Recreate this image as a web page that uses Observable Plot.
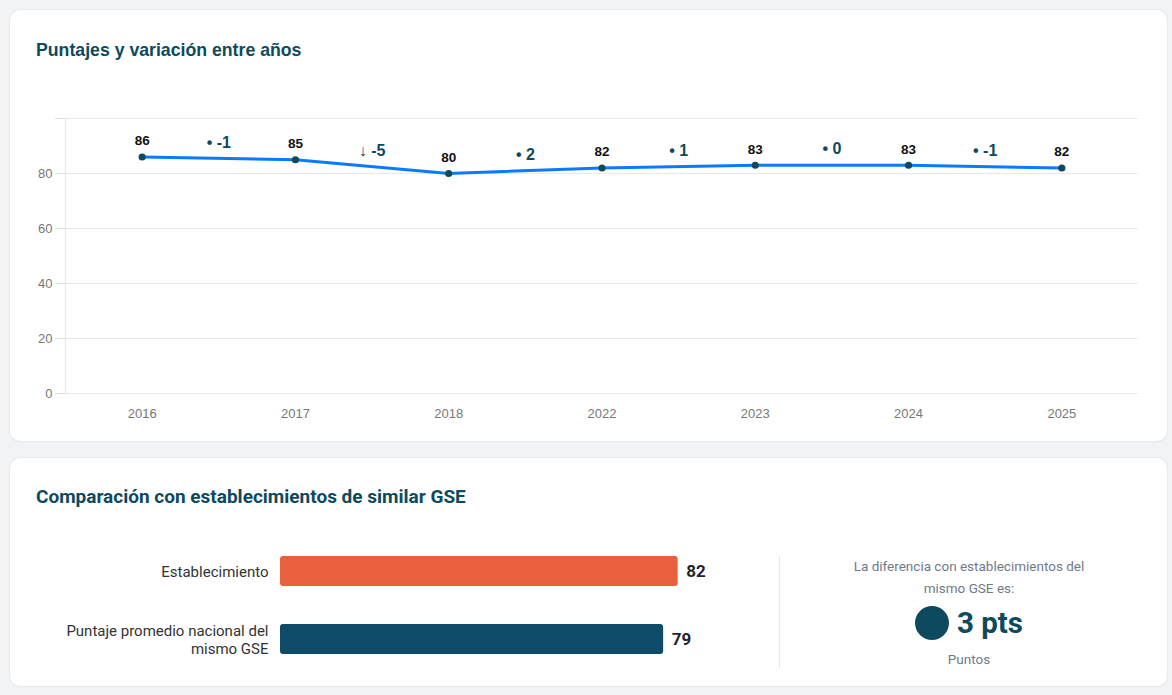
<!DOCTYPE html>
<html>
<head>
<meta charset="utf-8">
<script src="https://cdn.jsdelivr.net/npm/d3@7"></script>
<script src="https://cdn.jsdelivr.net/npm/@observablehq/plot@0.6"></script>
<style>
  html, body { margin: 0; padding: 0; }
  body { width: 1172px; height: 695px; background: #f2f3f5; position: relative; overflow: hidden; font-family: Roboto, "Liberation Sans", sans-serif; }
  .card { position: absolute; background: #fff; border-radius: 10px; box-shadow: 0 0 0 1px #e9eaee, 0 1px 2px rgba(0,0,0,0.04); }
  .abs { position: absolute; }
  .title1 { left: 36px; top: 40px; font: bold 17.7px "Liberation Sans", Arial, sans-serif; color: #0d4a5e; line-height: 20px; white-space: nowrap; }
  .title2 { left: 36px; top: 487px; font: bold 19px Roboto, sans-serif; color: #0d4a5e; line-height: 20px; white-space: nowrap; }
  .divider { left: 779px; top: 556px; width: 1px; height: 112px; background: #e6e8eb; }
  .panel { left: 779px; width: 380px; text-align: center; font-family: Roboto, sans-serif; }
  .note { color: #6f7b88; font-size: 13.5px; line-height: 22px; }
  .note span { display: inline-block; max-width: 250px; }
  .kpi { display: flex; align-items: center; justify-content: center; gap: 8px; color: #0d4a5e; font-weight: bold; font-size: 29.5px; line-height: 34px; }
  .kpi .circ { width: 34px; height: 34px; border-radius: 50%; background: #0d4a5e; display: inline-block; }
</style>
</head>
<body>
<div class="card" style="left:10px; top:10px; width:1157px; height:431px;"></div>
<div class="card" style="left:10px; top:458px; width:1157px; height:228px;"></div>
<div class="abs title1">Puntajes y variación entre años</div>
<div class="abs title2">Comparación con establecimientos de similar GSE</div>
<div id="chart1" class="abs" style="left:10px; top:100px;"></div>
<div id="chart2" class="abs" style="left:10px; top:540px;"></div>
<div class="abs divider"></div>
<div class="abs panel note" style="top:555px;"><span id="note"></span></div>
<div class="abs panel kpi" style="top:606px;" id="kpi"></div>
<div class="abs panel note" style="top:648px;">Puntos</div>
<script>
// ---- Data: chart 1 ----
const years = ["2016", "2017", "2018", "2022", "2023", "2024", "2025"];
const scores = [86, 85, 80, 82, 83, 83, 82];
const variationMarkers = ["•", "↓", "•", "•", "•", "•"];
const yTicks = [0, 20, 40, 60, 80, 100];

// ---- Data: chart 2 ----
const groups = ["Establecimiento", "Puntaje promedio nacional del mismo GSE"];
const groupScores = [82, 79];
const groupColors = ["#e8603e", "#0e4b68"];
const noteText = "La diferencia con establecimientos del mismo GSE es:";
const unitShort = "pts";

const points = years.map((year, i) => ({i, year, score: scores[i]}));
const variations = variationMarkers.map((m, i) => ({
  x: i + 0.5,
  y: (scores[i] + scores[i + 1]) / 2,
  label: `${m} ${scores[i + 1] - scores[i]}`
}));

const chart1 = Plot.plot({
  width: 1157,
  height: 330,
  marginLeft: 55,
  marginRight: 29,
  marginTop: 18,
  marginBottom: 37,
  style: {fontFamily: "'Liberation Sans', Arial, sans-serif", fontSize: "13px", background: "transparent"},
  x: {domain: [-0.5, years.length - 0.5]},
  y: {domain: [0, 100]},
  marks: [
    Plot.gridY(yTicks, {stroke: "#e8e8e8", strokeOpacity: 1}),
    Plot.ruleX([-0.5], {y1: 0, y2: 100, stroke: "#e8e8e8"}),
    Plot.axisY({ticks: yTicks, tickFormat: d => d === 100 ? "" : d, tickSize: 10, tickPadding: 3, stroke: "#e0e0e0", strokeOpacity: 1, fill: "#777", fontSize: 13}),
    Plot.axisX({ticks: d3.range(years.length), tickFormat: i => years[i], tickSize: 0, tickPadding: 15, fill: "#777", fontSize: 13}),
    Plot.line(points, {x: "i", y: "score", stroke: "#0a7bff", strokeWidth: 3}),
    Plot.dot(points, {x: "i", y: "score", r: 3.6, fill: "#0d4a5e"}),
    Plot.text(points, {x: "i", y: "score", text: d => String(d.score), dy: -16, fill: "#111", fontWeight: "bold", fontSize: 13.5}),
    Plot.text(variations, {x: "x", y: "y", text: "label", dy: -16, fill: "#0d4a5e", fontWeight: "bold", fontSize: 16})
  ]
});
document.getElementById("chart1").append(chart1);

const bars = groups.map((g, i) => ({group: g, score: groupScores[i], color: groupColors[i]}));
const chart2 = Plot.plot({
  width: 770,
  height: 140,
  marginLeft: 270,
  marginRight: 15,
  marginTop: 16,
  marginBottom: 26,
  style: {fontFamily: "Roboto, sans-serif", background: "transparent"},
  x: {domain: [0, 100], axis: null},
  y: {domain: groups, paddingInner: 0.56, paddingOuter: 0},
  marks: [
    Plot.barX(bars, {x: "score", y: "group", fill: "color", rx: 3}),
    Plot.axisY({tickSize: 0, tickPadding: 12, fill: "#333", fontSize: 15, lineWidth: 15, lineHeight: 1.15, label: null}),
    Plot.text(bars, {x: "score", y: "group", text: d => String(d.score), textAnchor: "start", dx: 8, fill: "#1f2430", fontWeight: "bold", fontSize: 17})
  ]
});
document.getElementById("chart2").append(chart2);

document.getElementById("note").textContent = noteText;
const diff = groupScores[0] - groupScores[1];
const kpi = document.getElementById("kpi");
kpi.innerHTML = `<span class="circ"></span><span>${diff} ${unitShort}</span>`;
</script>
</body>
</html>
